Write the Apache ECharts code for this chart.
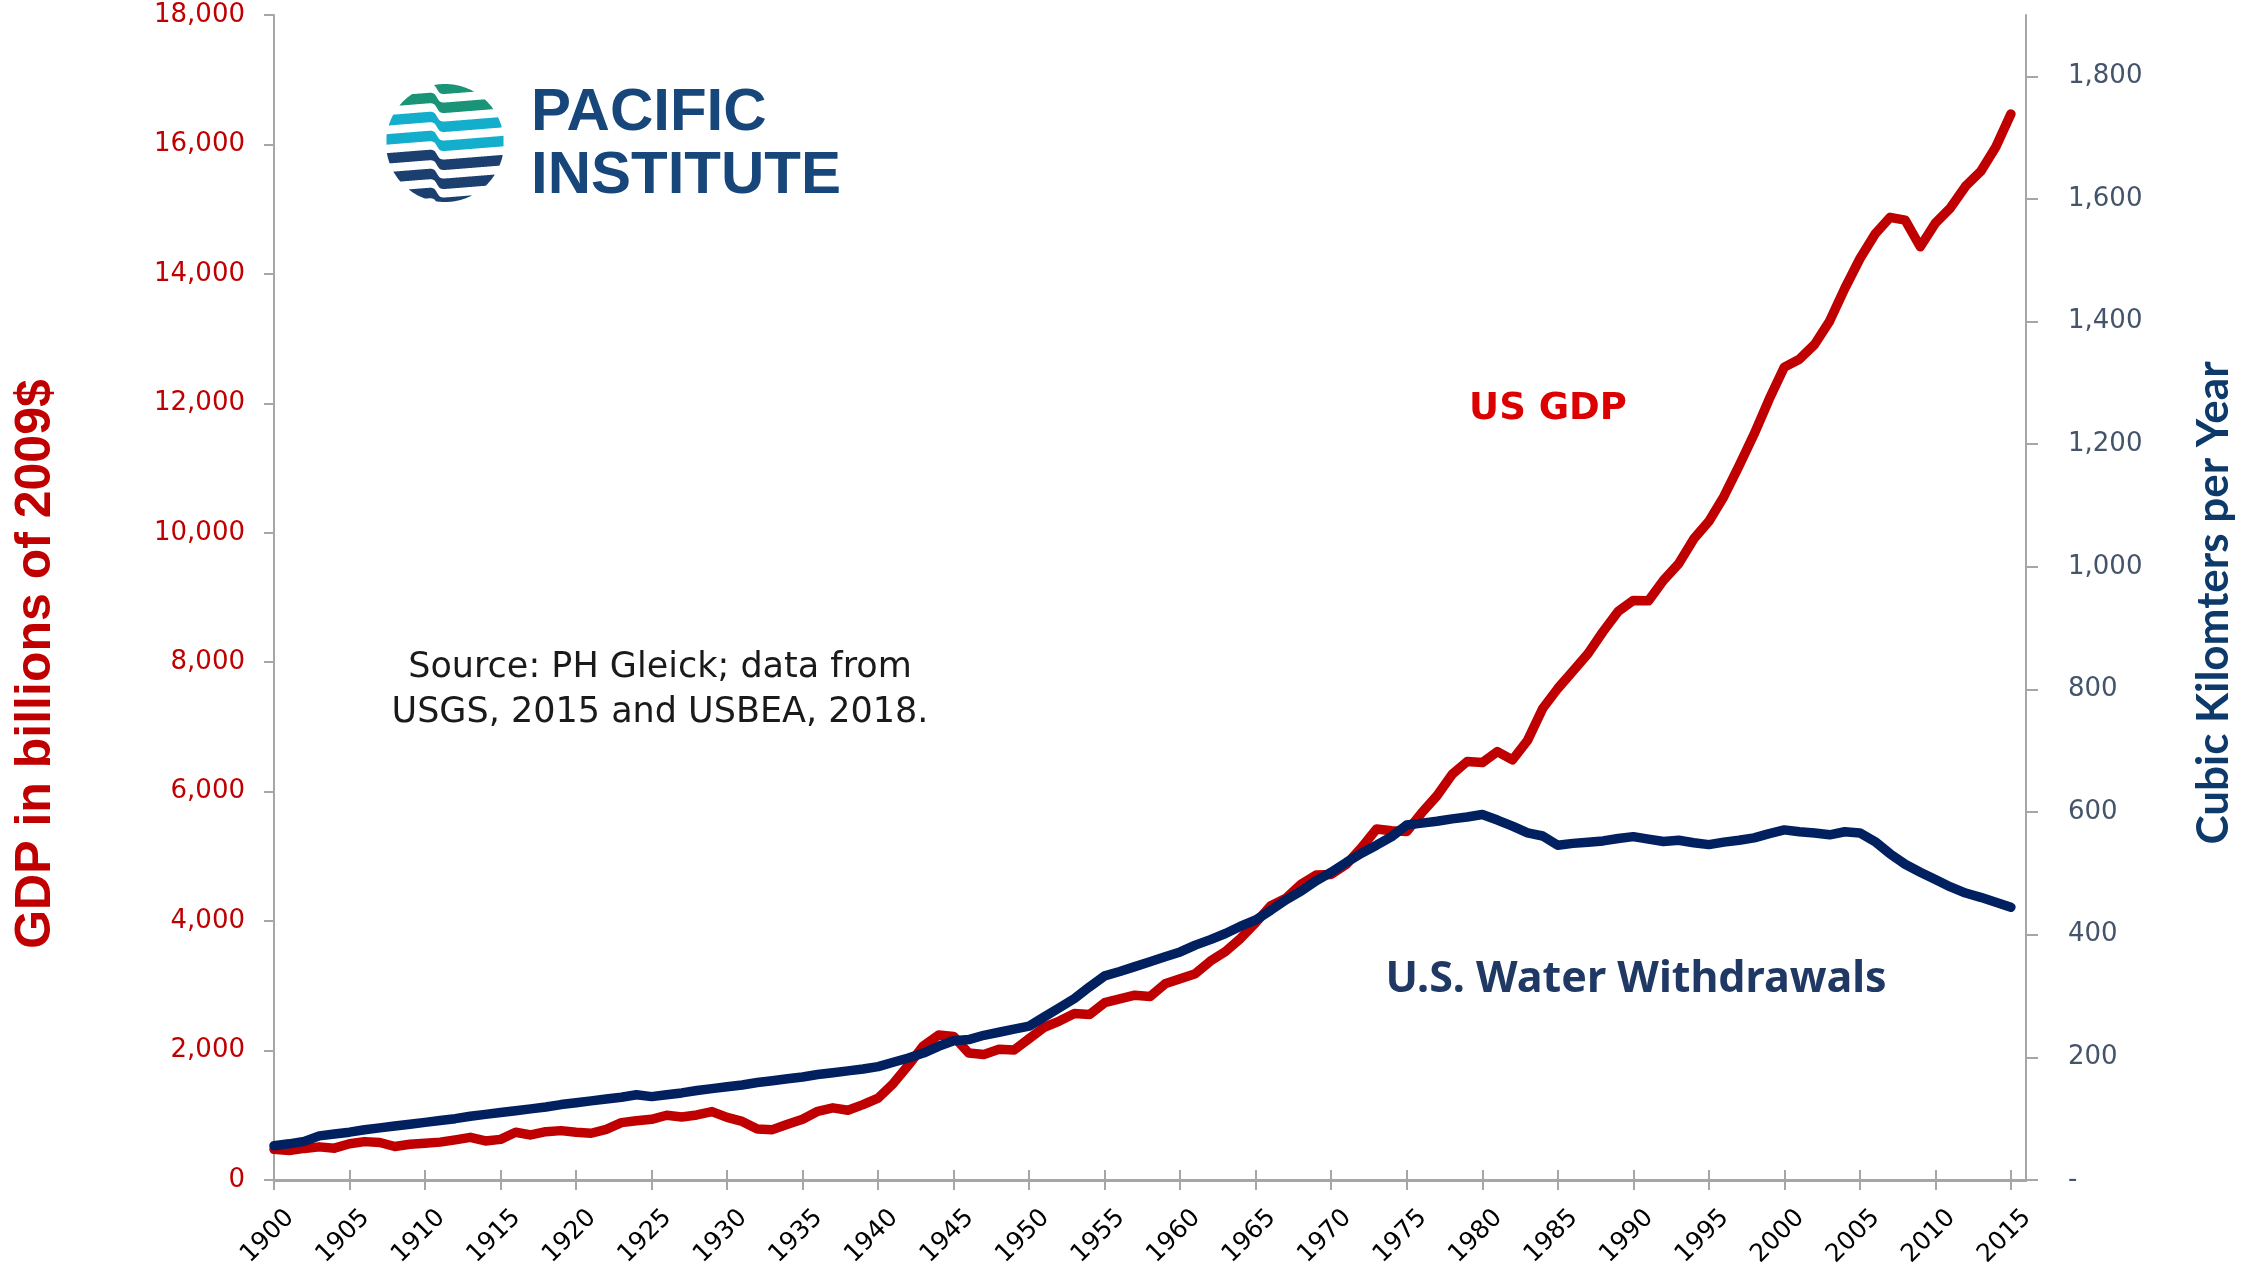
<!DOCTYPE html>
<html>
<head>
<meta charset="utf-8">
<script src="https://cdn.jsdelivr.net/npm/echarts@6/dist/echarts.min.js"></script>
<style>
  html, body { margin: 0; padding: 0; background: #ffffff; }
  #chart { width: 2264px; height: 1268px; }
</style>
</head>
<body>
<div id="chart"></div>
<script>
// ---------------- DATA ----------------
const years = [1900,1901,1902,1903,1904,1905,1906,1907,1908,1909,1910,1911,1912,1913,1914,1915,1916,1917,1918,1919,
  1920,1921,1922,1923,1924,1925,1926,1927,1928,1929,1930,1931,1932,1933,1934,1935,1936,1937,1938,1939,
  1940,1941,1942,1943,1944,1945,1946,1947,1948,1949,1950,1951,1952,1953,1954,1955,1956,1957,1958,1959,
  1960,1961,1962,1963,1964,1965,1966,1967,1968,1969,1970,1971,1972,1973,1974,1975,1976,1977,1978,1979,
  1980,1981,1982,1983,1984,1985,1986,1987,1988,1989,1990,1991,1992,1993,1994,1995,1996,1997,1998,1999,
  2000,2001,2002,2003,2004,2005,2006,2007,2008,2009,2010,2011,2012,2013,2014,2015];

// US GDP, billions of 2009$ (left axis)
const usGdp = [474,456,488,512,492,560,593,580,517,552,567,585,620,659,603,628,737,696,747,763,
  737,722,783,886,915,938,1000,974,1005,1057,967,905,788,778,862,939,1061,1115,1078,1164,
  1266,1490,1772,2074,2239,2218,1961,1939,2020,2009,2184,2360,2456,2571,2557,2739,2797,2856,2835,3031,
  3109,3188,3383,3530,3734,3977,4239,4355,4569,4713,4722,4878,5134,5424,5396,5385,5675,5937,6267,6466,
  6450,6618,6491,6792,7285,7594,7861,8133,8475,8786,8955,8948,9267,9521,9905,10175,10561,11035,11526,12066,
  12560,12682,12909,13271,13774,14234,14614,14874,14830,14419,14784,15021,15355,15583,15962,16470];

// U.S. water withdrawals, cubic km per year (right axis)
const waterWithdrawals = [56,59,63,72,75,78,82,85,88,91,94,97,100,104,107,110,113,116,119,123,
  126,129,132,135,139,136,139,142,146,149,152,155,159,162,165,168,172,175,178,181,
  185,192,199,207,218,227,229,236,241,246,251,266,281,296,315,333,340,348,356,364,
  372,383,392,402,414,424,440,457,471,488,502,518,533,546,560,579,582,585,589,592,
  596,587,577,566,561,546,549,551,553,557,560,556,552,554,550,547,551,554,558,565,
  571,568,566,563,568,566,552,532,515,502,490,478,468,461,453,445];

// tick values / labels
const xTickYears = [1900,1905,1910,1915,1920,1925,1930,1935,1940,1945,1950,1955,1960,1965,1970,1975,1980,1985,1990,1995,2000,2005,2010,2015];
const rightTicks = [0,200,400,600,800,1000,1200,1400,1600,1800];

// annotation texts
const leftAxisTitle = 'GDP in billions of 2009$';
const rightAxisTitle = 'Cubic Kilomters per Year';
const gdpLabel = 'US GDP';
const waterLabel = 'U.S. Water Withdrawals';
const sourceLines = ['Source: PH Gleick; data from', 'USGS, 2015 and USBEA, 2018.'];
const logoLines = ['PACIFIC', 'INSTITUTE'];

// ---------------- CHART ----------------
const chart = echarts.init(document.getElementById('chart'), null, { renderer: 'canvas' });

const AX = '#A6A6A6';
const fmt = v => Number(v).toLocaleString('en-US');

// Logo bands (decorative artwork)
function logoBands() {
  const cx = 445, cy = 143, r = 59;
  const colors = ['#1A9477','#1A9477','#12AECB','#12AECB','#1B3F6E','#1B3F6E','#1B3F6E'];
  const P = 19, T = 10.5, y0 = 78;
  const off = x => -0.08 * (x - cx) + 5.5 * Math.tanh((x - (cx - 8)) / 3);
  const els = [];
  colors.forEach((c, k) => {
    const segs = [];
    let cur = { top: [], bot: [] };
    for (let x = cx - r; x <= cx + r + 0.001; x += 0.5) {
      const dx = x - cx;
      const h = Math.sqrt(Math.max(0, r * r - dx * dx));
      const t = Math.max(y0 + k * P + off(x), cy - h);
      const b = Math.min(y0 + k * P + T + off(x), cy + h);
      if (b > t) { cur.top.push([x, t]); cur.bot.push([x, b]); }
      else if (cur.top.length) { segs.push(cur); cur = { top: [], bot: [] }; }
    }
    if (cur.top.length) segs.push(cur);
    segs.forEach(s => {
      if (s.top.length < 2) return;
      els.push({
        type: 'polygon',
        shape: { points: s.top.concat(s.bot.slice().reverse()) },
        style: { fill: c },
        silent: true
      });
    });
  });
  return els;
}

const graphics = [].concat(logoBands(), [
  { type: 'text', x: 531, y: 113, silent: true,
    style: { text: logoLines[0], fill: '#17467A', font: 'bold 60px "Liberation Sans", Arial, sans-serif', textAlign: 'left', textVerticalAlign: 'middle' } },
  { type: 'text', x: 531, y: 176, silent: true,
    style: { text: logoLines[1], fill: '#17467A', font: 'bold 60px "Liberation Sans", Arial, sans-serif', textAlign: 'left', textVerticalAlign: 'middle' } },
  { type: 'text', x: 36, y: 664, rotation: Math.PI / 2, silent: true,
    style: { text: leftAxisTitle, fill: '#C00000', font: 'bold 50px "Liberation Sans", Arial, sans-serif', textAlign: 'center', textVerticalAlign: 'middle' } },
  { type: 'text', x: 2214, y: 603, rotation: Math.PI / 2, silent: true,
    style: { text: rightAxisTitle, fill: '#0D3A6B', font: 'bold 44px Lato, "Open Sans", sans-serif', textAlign: 'center', textVerticalAlign: 'middle' } },
  { type: 'text', x: 1548, y: 409, silent: true,
    style: { text: gdpLabel, fill: '#DD0000', font: 'bold 37px "DejaVu Sans", sans-serif', textAlign: 'center', textVerticalAlign: 'middle' } },
  { type: 'text', x: 1636, y: 980, silent: true,
    style: { text: waterLabel, fill: '#1F3864', font: 'bold 43px "Noto Sans", sans-serif', textAlign: 'center', textVerticalAlign: 'middle' } },
  { type: 'text', x: 660, y: 668, silent: true,
    style: { text: sourceLines[0], fill: '#1a1a1a', font: '35px "DejaVu Sans", sans-serif', textAlign: 'center', textVerticalAlign: 'middle' } },
  { type: 'text', x: 660, y: 713, silent: true,
    style: { text: sourceLines[1], fill: '#1a1a1a', font: '35px "DejaVu Sans", sans-serif', textAlign: 'center', textVerticalAlign: 'middle' } }
]);

const option = {
  animation: false,
  backgroundColor: '#ffffff',
  grid: { left: 274, right: 238, top: 15, bottom: 88, containLabel: false, outerBoundsMode: 'none' },
  xAxis: [
    {
      type: 'value', min: 1900, max: 2016, interval: 5,
      axisLine: { show: true, onZero: false, lineStyle: { color: AX, width: 3 } },
      axisTick: { show: true, inside: false, length: 10, customValues: xTickYears, lineStyle: { color: AX, width: 2 } },
      axisLabel: {
        customValues: xTickYears, rotate: 45, align: 'center', verticalAlign: 'middle',
        padding: [0, 18, 0, 0], margin: 50,
        color: '#000000', fontSize: 25, fontFamily: '"DejaVu Sans", Verdana, sans-serif',
        formatter: v => String(v)
      },
      splitLine: { show: false }
    },
    {
      type: 'value', min: 1900, max: 2016, interval: 5, position: 'bottom',
      axisLine: { show: false },
      axisTick: { show: true, inside: true, length: 10, customValues: xTickYears, lineStyle: { color: AX, width: 2 } },
      axisLabel: { show: false },
      splitLine: { show: false }
    }
  ],
  yAxis: [
    {
      type: 'value', position: 'left', min: 0, max: 18000, interval: 2000,
      axisLine: { show: true, lineStyle: { color: AX, width: 2 } },
      axisTick: { show: true, length: 10, lineStyle: { color: AX, width: 2 } },
      axisLabel: { color: '#C00000', fontSize: 26, fontFamily: '"DejaVu Sans", Verdana, sans-serif', margin: 29, formatter: fmt },
      splitLine: { show: false }
    },
    {
      type: 'value', position: 'right', min: 0, max: 1900, interval: 100,
      axisLine: { show: true, lineStyle: { color: AX, width: 2 } },
      axisTick: { show: true, length: 12, customValues: rightTicks, lineStyle: { color: AX, width: 2 } },
      axisLabel: { customValues: rightTicks, color: '#44546A', fontSize: 26, fontFamily: '"DejaVu Sans", Verdana, sans-serif', margin: 42,
        formatter: v => (v === 0 ? '-' : fmt(v)) },
      splitLine: { show: false }
    }
  ],
  series: [
    {
      name: 'US GDP', type: 'line', xAxisIndex: 0, yAxisIndex: 0,
      data: years.map((y, i) => [y, usGdp[i]]),
      showSymbol: false, symbol: 'none',
      lineStyle: { color: '#C00000', width: 9.5, cap: 'round', join: 'round' },
      z: 2
    },
    {
      name: 'U.S. Water Withdrawals', type: 'line', xAxisIndex: 0, yAxisIndex: 1,
      data: years.map((y, i) => [y, waterWithdrawals[i]]),
      showSymbol: false, symbol: 'none',
      lineStyle: { color: '#002060', width: 9.5, cap: 'round', join: 'round' },
      z: 3
    }
  ],
  graphic: graphics
};

chart.setOption(option);
</script>
</body>
</html>
